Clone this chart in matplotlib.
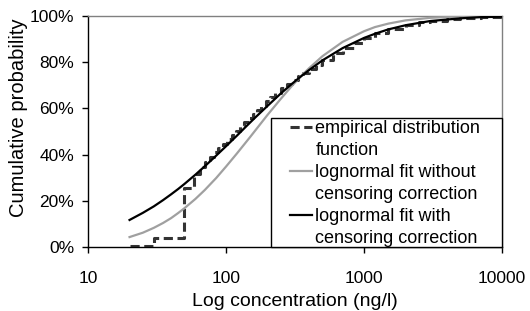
import numpy as np
import matplotlib
matplotlib.use("Agg")
import matplotlib.pyplot as plt
from matplotlib.patches import Rectangle
from matplotlib.ticker import FixedLocator, FixedFormatter, NullLocator

plt.rcParams["font.family"] = ["Liberation Sans", "DejaVu Sans"]

# empirical distribution function (step positions, cumulative fraction)
emp_x = [20, 30, 50, 59, 65, 70, 76, 82, 88, 95, 102, 110, 118, 127, 136, 146,
         157, 168, 180, 195, 210, 228, 250, 275, 300, 330, 360, 400, 450, 500,
         600, 700, 850, 1000, 1200, 1500, 2000, 2500, 3000, 4000, 5000, 7000, 10000]
emp_y = [0.005, 0.04, 0.255, 0.315, 0.345, 0.37, 0.39, 0.41, 0.428, 0.447, 0.466, 0.485,
         0.503, 0.522, 0.539, 0.558, 0.576, 0.593, 0.61, 0.63, 0.648, 0.667, 0.687,
         0.705, 0.722, 0.74, 0.755, 0.772, 0.79, 0.808, 0.838, 0.86, 0.884, 0.903,
         0.925, 0.942, 0.96, 0.972, 0.98, 0.988, 0.992, 0.996, 0.999]

# lognormal fit without censoring correction (grey)
fit1_x = [20, 25, 30, 35, 40, 45, 50, 60, 70, 85, 100, 120, 150, 200, 250, 300, 350,
          400, 500, 700, 1000, 1200, 1500, 2000, 3000, 5000, 7000, 10000]
fit1_y = [0.043, 0.062, 0.083, 0.104, 0.125, 0.147, 0.168, 0.208, 0.246, 0.299, 0.348,
          0.405, 0.477, 0.572, 0.642, 0.697, 0.740, 0.774, 0.826, 0.888, 0.934, 0.952,
          0.967, 0.981, 0.992, 0.998, 0.999, 1.0]

# lognormal fit with censoring correction (black)
fit2_x = [20, 25, 30, 35, 40, 45, 50, 60, 70, 80, 100, 120, 140, 160, 200, 250, 300,
          350, 400, 500, 700, 1000, 1200, 1500, 2000, 3000, 5000, 7000, 10000]
fit2_y = [0.117, 0.148, 0.176, 0.203, 0.228, 0.251, 0.273, 0.313, 0.349, 0.381, 0.436,
          0.482, 0.522, 0.556, 0.611, 0.665, 0.706, 0.739, 0.766, 0.808, 0.861, 0.905,
          0.923, 0.942, 0.960, 0.978, 0.990, 0.995, 0.997]

fig = plt.figure(figsize=(5.3, 3.11), dpi=100)
ax = fig.add_axes([88 / 530, 64 / 311, 414 / 530, 231 / 311])

l_emp, = ax.plot(emp_x, emp_y, drawstyle="steps-post", color="#333333", lw=2.2,
                 linestyle=(0, (3, 1.5)), zorder=2)
l_fit1, = ax.plot(fit1_x, fit1_y, color="#a0a0a0", lw=1.6, zorder=3)
l_fit2, = ax.plot(fit2_x, fit2_y, color="black", lw=1.6, zorder=4)

ax.set_xscale("log")
ax.set_xlim(10, 10000)
ax.set_ylim(0, 1)
ax.xaxis.set_major_locator(FixedLocator([10, 100, 1000, 10000]))
ax.xaxis.set_major_formatter(FixedFormatter(["10", "100", "1000", "10000"]))
ax.xaxis.set_minor_locator(NullLocator())
ax.set_yticks([0, 0.2, 0.4, 0.6, 0.8, 1.0])
ax.set_yticklabels(["0%", "20%", "40%", "60%", "80%", "100%"])
ax.tick_params(axis="both", direction="out", length=4, width=1, labelsize=12.5)
ax.tick_params(axis="x", pad=13)
ax.tick_params(axis="y", pad=6)

for s in ["top", "right"]:
    ax.spines[s].set_color("#808080")
    ax.spines[s].set_linewidth(1)
for s in ["left", "bottom"]:
    ax.spines[s].set_linewidth(1)

ax.set_xlabel("Log concentration (ng/l)", fontsize=14, labelpad=5)
ax.set_ylabel("Cumulative probability", fontsize=14.5)
ax.yaxis.set_label_coords(-0.145, 0.558)

# legend box
ax.add_patch(Rectangle((0.442, 0), 0.558, 0.558, transform=ax.transAxes,
                       facecolor="white", edgecolor="black", lw=1, zorder=5,
                       clip_on=False))
blank, = ax.plot([], [], color="none")
leg = ax.legend([l_emp, blank, l_fit1, blank, l_fit2, blank],
                ["empirical distribution", "function",
                 "lognormal fit without", "censoring correction",
                 "lognormal fit with", "censoring correction"],
                loc="upper left", bbox_to_anchor=(0.488, 0.55), frameon=False,
                borderpad=0, borderaxespad=0, handlelength=1.2, handletextpad=0.2,
                labelspacing=0.28, fontsize=13)
leg.set_zorder(6)

fig.savefig("out.png", dpi=100)
